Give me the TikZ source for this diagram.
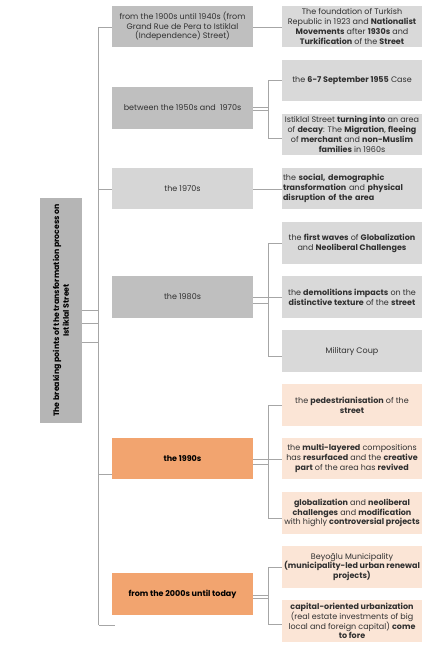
\documentclass[tikz,border=0pt]{standalone}
\usepackage{fontspec}
\setmainfont{Poppins}
\usetikzlibrary{calc}
\definecolor{rootgray}{HTML}{B5B5B5}
\definecolor{midgray}{HTML}{BFBFBF}
\definecolor{palegray}{HTML}{D6D6D6}
\definecolor{sidegray}{HTML}{D9D9D9}
\definecolor{midorange}{HTML}{F2A46F}
\definecolor{sideorange}{HTML}{FBE5D6}
\definecolor{linegray}{HTML}{A6A6A6}
\definecolor{textgray}{HTML}{303030}

\begin{document}
\begin{tikzpicture}[x=1pt,y=-1pt,
  box/.style={rectangle,inner sep=1pt,align=center,text=textgray,
    font=\fontsize{8}{9.8}\selectfont},
  midbox/.style={box,fill=midgray,minimum width=141pt,minimum height=41.5pt},
  sidebox/.style={box,fill=sidegray,minimum width=140pt,minimum height=41.5pt},
  link/.style={draw=linegray,line width=0.7pt}]
\useasboundingbox (0,0) rectangle (437,650);

%Root
\node[box,fill=rootgray,rotate=90,minimum width=225pt,minimum height=42pt,
  text=black,font=\fontsize{7.8}{9.8}\selectfont] (root) at (61,310.5)
  {\textbf{The breaking points of the transformation process on}\\\textbf{Istiklal Street}};

%Periods
\node[midbox] (p1) at (182.5,26.5) {from the 1900s until 1940s (from\\Grand Rue de Pera to Istiklal\\(Independence) Street)};
\node[midbox] (p2) at (182.5,108) {between the 1950s and\ \ 1970s};
\node[midbox,fill=palegray] (p3) at (182.5,188.5) {the 1970s};
\node[midbox] (p4) at (182.5,297) {the 1980s};
\node[midbox,fill=midorange,text=black] (p5) at (182.5,458.5) {\textbf{the 1990s}};
\node[midbox,fill=midorange,text=black] (p6) at (182.5,594) {\textbf{from the 2000s until today}};

%Events
\node[sidebox] (e1) at (352,26.5) {The foundation of Turkish\\Republic in 1923 and \textbf{Nationalist}\\\textbf{Movements} after \textbf{1930s} and\\\textbf{Turkification} of the \textbf{Street}};
\node[sidebox] (e2a) at (352,80.5) {the \textbf{6-7 September 1955} Case};
\node[sidebox] (e2b) at (352,134.5) {Istiklal Street \textbf{turning into} an area\\of \textbf{decay}: The \textbf{Migration}, \textbf{fleeing}\\of \textbf{merchant} and \textbf{non-Muslim}\\\textbf{families} in 1960s};
\node[sidebox,align=left,text width=138pt] (e3) at (352,188.5) {the \textbf{social, demographic}\\\textbf{transformation} and \textbf{physical}\\\textbf{disruption of the area}};
\node[sidebox] (e4a) at (352,243) {the \textbf{first waves} of \textbf{Globalization}\\and \textbf{Neoliberal Challenges}};
\node[sidebox] (e4b) at (352,297) {the \textbf{demolitions impacts} on the\\\textbf{distinctive texture} of the \textbf{street}};
\node[sidebox] (e4c) at (352,351) {Military Coup};
\node[sidebox,fill=sideorange] (e5a) at (352,405) {the \textbf{pedestrianisation} of the\\\textbf{street}};
\node[sidebox,fill=sideorange] (e5b) at (352,458.5) {the \textbf{multi-layered} compositions\\has \textbf{resurfaced} and the \textbf{creative}\\\textbf{part} of the area has \textbf{revived}};
\node[sidebox,fill=sideorange] (e5c) at (352,513) {\textbf{globalization} and \textbf{neoliberal}\\\textbf{challenges} and \textbf{modification}\\with highly \textbf{controversial projects}};
\node[sidebox,fill=sideorange] (e6a) at (352,567) {Beyoğlu Municipality\\\textbf{(municipality-led urban renewal}\\\textbf{projects)}};
\node[sidebox,fill=sideorange] (e6b) at (352,621) {\textbf{capital-oriented urbanization}\\(real estate investments of big\\local and foreign capital) \textbf{come}\\\textbf{to fore}};

%Trunk
\coordinate (ttop) at (98.5,27);
\coordinate (tbot) at (98.5,625);
\draw[link] (ttop) -- (tbot);
\draw[link] (ttop) -- (p1.west |- ttop);
\draw[link] (98.5,189) -- (p3.west |- 0,189);
\draw[link] (98.5,474) -- (p5.west |- 0,474);
\draw[link] (tbot) -- ++(16,0);
\foreach \y in {310,323,342}
  \draw[link] (root.south |- 0,\y) -- (98.5,\y);

%Single branches
\draw[link] (p1.east |- 0,27) -- (e1.west |- 0,27);
\draw[link] (p3.east |- 0,189) -- (e3.west |- 0,189);

%Brackets
\draw[link] (p2.east |- 0,107) -- (268,107) (p2.east |- 0,110) -- (268,110);
\draw[link] (e2a.west |- 0,80) -| (268,138) -- (e2b.west |- 0,138);

\draw[link] (p4.east |- 0,297) -- (e4b.west |- 0,297) (p4.east |- 0,303) -- (268,303);
\draw[link] (e4a.west |- 0,243) -| (268,356) -- (e4c.west |- 0,356);

\draw[link] (p5.east |- 0,459) -- (e5b.west |- 0,459) (p5.east |- 0,464) -- (268,464);
\draw[link] (e5a.west |- 0,405) -| (268,518) -- (e5c.west |- 0,518);

\draw[link] (p6.east |- 0,595) -- (268,595) (p6.east |- 0,598) -- (268,598);
\draw[link] (e6a.west |- 0,567) -| (268,624) -- (e6b.west |- 0,624);

\end{tikzpicture}
\end{document}
